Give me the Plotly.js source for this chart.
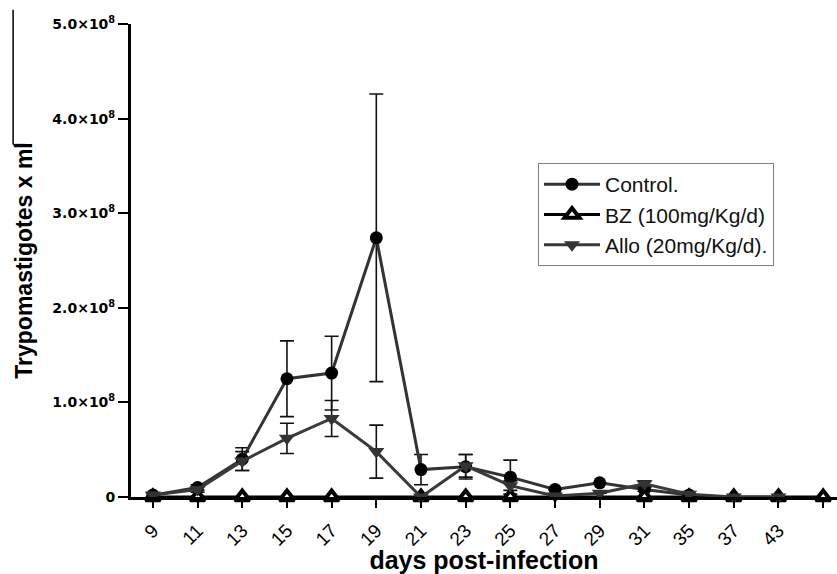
<!DOCTYPE html>
<html>
<head>
<meta charset="utf-8">
<script src="https://cdn.plot.ly/plotly-3.0.1.min.js"></script>
<style>html,body{margin:0;padding:0;background:#fff;}#chart{width:837px;height:574px;}</style>
</head>
<body>
<div id="chart"></div>
<script>
// Categories (days post-infection); last category is an unlabeled extra point
var days = ["9","11","13","15","17","19","21","23","25","27","29","31","35","37","43","45"];
var dayLabels = ["9","11","13","15","17","19","21","23","25","27","29","31","35","37","43",""];

// Control
var controlValues = [0.02e8, 0.10e8, 0.40e8, 1.25e8, 1.31e8, 2.74e8, 0.29e8, 0.32e8, 0.21e8, 0.08e8, 0.15e8, 0.08e8, 0.02e8, null, null, null];
var controlErrors = [0.02e8, 0.03e8, 0.12e8, 0.40e8, 0.39e8, 1.52e8, 0.16e8, 0.13e8, 0.18e8, 0, 0, 0.02e8, 0, 0, 0, 0];

// BZ (100mg/Kg/d)
var bzValues = [0, 0, 0, 0, 0, null, 0, 0, 0, null, null, 0, 0, 0, 0, 0];

// Allo (20mg/Kg/d)
var alloValues = [0.02e8, 0.08e8, 0.38e8, 0.62e8, 0.83e8, 0.48e8, 0.0, 0.33e8, 0.12e8, 0.01e8, 0.04e8, 0.14e8, 0.03e8, 0.0, 0.0, null];
var alloErrors = [0.02e8, 0.03e8, 0.10e8, 0.16e8, 0.19e8, 0.28e8, 0, 0.12e8, 0.05e8, 0, 0, 0.03e8, 0, 0, 0, 0];

// Y ticks
var yTickVals = [0, 1e8, 2e8, 3e8, 4e8, 5e8];
var yTickText = ["0", "1.0×10<sup>8</sup>", "2.0×10<sup>8</sup>", "3.0×10<sup>8</sup>", "4.0×10<sup>8</sup>", "5.0×10<sup>8</sup>"];

var errStyle = {type: 'data', visible: true, color: '#111', thickness: 1.6, width: 7};

var traces = [
  {
    name: 'Control.', x: days, y: controlValues, type: 'scatter', mode: 'lines+markers',
    line: {color: '#333333', width: 3},
    marker: {symbol: 'circle', size: 13, color: '#000000'},
    error_y: Object.assign({array: controlErrors}, errStyle),
    cliponaxis: false, connectgaps: false
  },
  {
    name: 'BZ (100mg/Kg/d)', x: days, y: bzValues, type: 'scatter', mode: 'lines+markers',
    line: {color: '#000000', width: 3},
    marker: {symbol: 'triangle-up', size: 13, color: '#ffffff', line: {color: '#000000', width: 4}},
    cliponaxis: false, connectgaps: true
  },
  {
    name: 'Allo (20mg/Kg/d).', x: days, y: alloValues, type: 'scatter', mode: 'lines+markers',
    line: {color: '#3a3a3a', width: 3},
    marker: {symbol: 'triangle-down', size: 14, color: '#333333'},
    error_y: Object.assign({array: alloErrors}, errStyle),
    cliponaxis: false, connectgaps: false
  }
];

var layout = {
  width: 837, height: 574,
  paper_bgcolor: '#ffffff', plot_bgcolor: '#ffffff',
  margin: {l: 131, r: 0, t: 24, b: 77, pad: 0},
  font: {family: 'Liberation Sans, Arial, sans-serif', color: '#000'},
  showlegend: true,
  legend: {
    x: 0.5765, y: 0.706, xanchor: 'left', yanchor: 'top',
    bordercolor: '#808080', borderwidth: 1, bgcolor: '#ffffff',
    font: {size: 21, family: 'Liberation Sans, Arial, sans-serif', color: '#111'},
    tracegroupgap: 0, itemwidth: 56
  },
  xaxis: {
    type: 'category', categoryorder: 'array', categoryarray: days,
    range: [-0.49, 15.31],
    tickmode: 'array', tickvals: days, ticktext: dayLabels,
    tickangle: -45,
    tickfont: {size: 19, family: 'Liberation Sans, Arial, sans-serif', color: '#000'},
    ticks: 'outside', ticklen: 8, tickwidth: 2, tickcolor: '#000',
    ticklabelstandoff: 4,
    showline: true, linewidth: 3, linecolor: '#000',
    showgrid: false, zeroline: false,
    title: {text: 'days post-infection', font: {size: 25, weight: 'bold', family: 'Liberation Sans, Arial, sans-serif', color: '#000'}, standoff: 2}
  },
  yaxis: {
    range: [0, 5e8],
    tickmode: 'array', tickvals: yTickVals, ticktext: yTickText,
    tickfont: {size: 14, weight: 'bold', family: 'DejaVu Sans, sans-serif', color: '#000'},
    ticks: 'outside', ticklen: 10, tickwidth: 2, tickcolor: '#000',
    showline: true, linewidth: 3, linecolor: '#000',
    showgrid: false, zeroline: false,
    title: {text: 'Trypomastigotes x ml', font: {size: 23, weight: 'bold', family: 'Liberation Sans, Arial, sans-serif', color: '#000'}, standoff: 14}
  },
  shapes: [
    {type: 'line', xref: 'paper', yref: 'paper', x0: -0.167, x1: -0.167, y0: 1.03, y1: 0.745, line: {color: '#000', width: 1.5}},
    {type: 'line', xref: 'paper', yref: 'paper', x0: -0.167, x1: -0.15, y0: 0.745, y1: 0.745, line: {color: '#000', width: 1.5}}
  ]
};

Plotly.newPlot('chart', traces, layout, {displayModeBar: false, staticPlot: true});
</script>
</body>
</html>
